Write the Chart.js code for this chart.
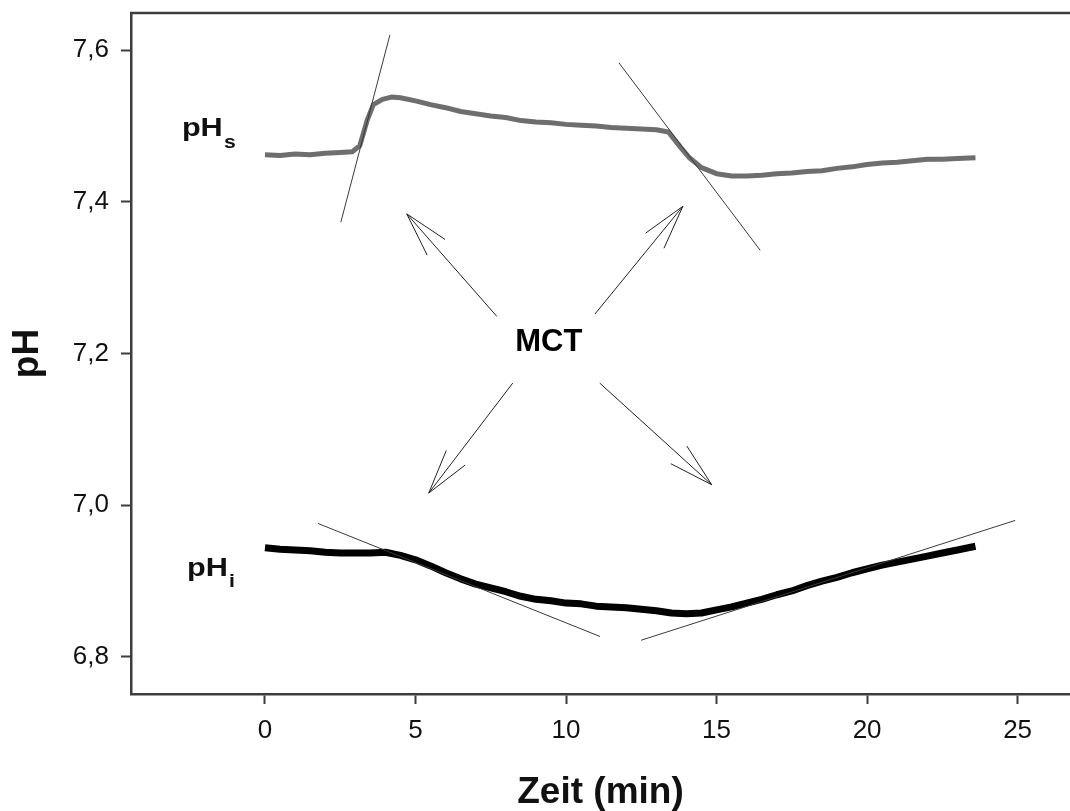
<!DOCTYPE html>
<html lang="de">
<head>
<meta charset="utf-8">
<title>pH-Verlauf</title>
<script src="https://cdn.jsdelivr.net/npm/chart.js@4.4.0/dist/chart.umd.min.js"></script>
<style>
  html, body { margin: 0; padding: 0; background: #fff; }
  canvas { display: block; }
</style>
</head>
<body>
<canvas id="c" width="1070" height="811"></canvas>
<script>
// Extracellular pH (pHs) recording
const timeS = [0, 0.5, 1.0, 1.5, 2.0, 2.5, 2.9, 3.15, 3.4, 3.6, 3.9, 4.2, 4.5, 5.0, 5.5, 6.0, 6.5, 7.0, 7.5, 8.0,
  8.5, 9.0, 9.5, 10.0, 10.5, 11.0, 11.5, 12.0, 12.5, 13.0, 13.4, 13.8, 14.1, 14.5, 15.0, 15.5, 16.0, 16.5, 17.0,
  17.5, 18.0, 18.5, 19.0, 19.5, 20.0, 20.5, 21.0, 21.5, 22.0, 22.5, 23.0, 23.6];
const phS = [7.462, 7.461, 7.463, 7.462, 7.464, 7.465, 7.466, 7.474, 7.508, 7.528, 7.535, 7.538, 7.537, 7.533,
  7.528, 7.524, 7.519, 7.516, 7.513, 7.511, 7.507, 7.505, 7.504, 7.502, 7.501, 7.500, 7.498, 7.497, 7.496, 7.495,
  7.492, 7.472, 7.458, 7.445, 7.437, 7.434, 7.434, 7.435, 7.437, 7.438, 7.440, 7.441, 7.444, 7.446, 7.449, 7.451,
  7.452, 7.454, 7.456, 7.456, 7.457, 7.458];

// Intracellular pH (pHi) recording
const timeI = [0, 0.5, 1, 1.5, 2, 2.5, 3, 3.5, 4, 4.5, 5, 5.5, 6, 6.5, 7, 7.5, 8, 8.5, 9, 9.5, 10, 10.5, 11,
  11.5, 12, 12.5, 13, 13.5, 14, 14.5, 15, 15.5, 16, 16.5, 17, 17.5, 18, 18.5, 19, 19.5, 20, 20.5, 21, 21.5, 22,
  22.5, 23, 23.6];
const phI = [6.944, 6.942, 6.941, 6.940, 6.938, 6.937, 6.937, 6.937, 6.938, 6.934, 6.928, 6.920, 6.911, 6.903,
  6.896, 6.891, 6.886, 6.880, 6.876, 6.874, 6.871, 6.870, 6.867, 6.866, 6.865, 6.863, 6.861, 6.858, 6.857, 6.858,
  6.862, 6.866, 6.871, 6.876, 6.882, 6.887, 6.894, 6.900, 6.905, 6.911, 6.916, 6.921, 6.925, 6.929, 6.933, 6.937,
  6.941, 6.946];

// Tangents used to read the slopes (start point, end point)
const tangentRiseS = [[2.52, 7.373], [4.15, 7.620]];
const tangentFallS = [[11.76, 7.583], [16.45, 7.336]];
const tangentFallI = [[1.76, 6.976], [11.13, 6.827]];
const tangentRiseI = [[12.49, 6.822], [24.92, 6.980]];

// MCT arrows (tail -> tip)
const arrowTails = [[7.70, 7.249], [10.96, 7.252], [8.23, 7.161], [11.12, 7.161]];
const arrowTips  = [[4.71, 7.384], [13.88, 7.394], [5.44, 7.016], [14.84, 7.027]];

// Axis ticks
const xTicks = [0, 5, 10, 15, 20, 25];
const yTicks = [6.8, 7.0, 7.2, 7.4, 7.6];

// Text anchors in data units
const labelS = { x: -2.76, y: 7.4867, main: 'pH', sub: 's' };
const labelI = { x: -2.59, y: 6.9068, main: 'pH', sub: 'i' };
const labelMCT = { x: 9.43, y: 7.2152, text: 'MCT' };

const AXIS = '#3d3d3d';
const SANS = '"Liberation Sans", Arial, sans-serif';

const toPoints = (xs, ys) => xs.map((x, i) => ({ x, y: ys[i] }));
const segPoints = seg => seg.map(([x, y]) => ({ x, y }));

const tangentStyle = { borderColor: '#3a3a3a', borderWidth: 1, pointRadius: 0, order: 0 };

const overlay = {
  id: 'overlay',
  afterDraw(chart) {
    const { ctx, chartArea, scales: { x, y } } = chart;
    const px = v => x.getPixelForValue(v);
    const py = v => y.getPixelForValue(v);
    ctx.save();

    // top frame line
    ctx.strokeStyle = AXIS;
    ctx.lineWidth = 2.5;
    ctx.beginPath();
    ctx.moveTo(chartArea.left - 1, chartArea.top);
    ctx.lineTo(chart.width, chartArea.top);
    ctx.stroke();

    // arrows
    ctx.strokeStyle = '#222';
    ctx.lineWidth = 1;
    const headLen = 46, headAng = 15 * Math.PI / 180;
    arrowTails.forEach((t, i) => {
      const x0 = px(t[0]), y0 = py(t[1]);
      const x1 = px(arrowTips[i][0]), y1 = py(arrowTips[i][1]);
      const a = Math.atan2(y0 - y1, x0 - x1);
      ctx.beginPath();
      ctx.moveTo(x0, y0);
      ctx.lineTo(x1, y1);
      ctx.moveTo(x1 + headLen * Math.cos(a - headAng), y1 + headLen * Math.sin(a - headAng));
      ctx.lineTo(x1, y1);
      ctx.lineTo(x1 + headLen * Math.cos(a + headAng), y1 + headLen * Math.sin(a + headAng));
      ctx.stroke();
    });

    // series labels with subscripts (slightly widened bold type)
    ctx.fillStyle = '#111';
    ctx.textBaseline = 'alphabetic';
    ctx.textAlign = 'left';
    [[labelS, 12], [labelI, 11]].forEach(([lab, drop]) => {
      const lx = px(lab.x), ly = py(lab.y);
      ctx.save();
      ctx.translate(lx, ly);
      ctx.scale(1.18, 1);
      ctx.font = 'bold 26px ' + SANS;
      ctx.fillText(lab.main, 0, 0);
      const w = ctx.measureText(lab.main).width;
      ctx.font = 'bold 18px ' + SANS;
      ctx.fillText(lab.sub, w + 1, drop);
      ctx.restore();
    });

    // MCT label
    ctx.font = 'bold 31px ' + SANS;
    ctx.textAlign = 'center';
    ctx.textBaseline = 'middle';
    ctx.fillStyle = '#000';
    ctx.fillText(labelMCT.text, px(labelMCT.x), py(labelMCT.y));
    ctx.restore();
  }
};

new Chart(document.getElementById('c'), {
  type: 'line',
  data: {
    datasets: [
      { ...tangentStyle, data: segPoints(tangentRiseS) },
      { ...tangentStyle, data: segPoints(tangentFallS) },
      { ...tangentStyle, data: segPoints(tangentFallI) },
      { ...tangentStyle, data: segPoints(tangentRiseI) },
      { label: 'pHs', data: toPoints(timeS, phS), borderColor: '#6e6e6e', borderWidth: 5,
        pointRadius: 0, borderJoinStyle: 'round', order: 1 },
      { label: 'pHi', data: toPoints(timeI, phI), borderColor: '#000', borderWidth: 7,
        pointRadius: 0, borderJoinStyle: 'round', order: 1 }
    ]
  },
  options: {
    responsive: false,
    animation: false,
    events: [],
    layout: { padding: { top: 13, right: 0, left: 0, bottom: 0 } },
    plugins: { legend: { display: false }, tooltip: { enabled: false } },
    scales: {
      x: {
        type: 'linear',
        min: -4.45,
        max: 26.74,
        afterBuildTicks: s => { s.ticks = xTicks.map(v => ({ value: v })); },
        afterFit: s => { s.height = 117; s.paddingLeft = 0; s.paddingRight = 0; },
        grid: { display: true, drawOnChartArea: false, tickLength: 10, tickColor: AXIS, tickWidth: 2 },
        border: { display: true, color: AXIS, width: 2.5 },
        ticks: { font: { family: SANS, size: 26 }, color: '#111', padding: 11, maxRotation: 0, autoSkip: false,
                 callback: v => String(v) },
        title: { display: true, text: 'Zeit (min)', color: '#111',
                 font: { family: SANS, size: 37, weight: 'bold', lineHeight: 1 }, padding: { top: 0, bottom: 0 } }
      },
      y: {
        type: 'linear',
        min: 6.7512,
        max: 7.6488,
        afterBuildTicks: s => { s.ticks = yTicks.map(v => ({ value: v })); },
        afterFit: s => { s.width = 131; s.paddingTop = 0; s.paddingBottom = 0; },
        grid: { display: true, drawOnChartArea: false, tickLength: 10, tickColor: AXIS, tickWidth: 2 },
        border: { display: true, color: AXIS, width: 2.5 },
        ticks: { font: { family: SANS, size: 26 }, color: '#111', padding: 12, autoSkip: false,
                 callback: v => v.toFixed(1).replace('.', ',') },
        title: { display: true, text: 'pH', color: '#111',
                 font: { family: SANS, size: 37, weight: 'bold', lineHeight: 1 }, padding: { top: 9, bottom: 0 } }
      }
    }
  },
  plugins: [overlay]
});
</script>
</body>
</html>
